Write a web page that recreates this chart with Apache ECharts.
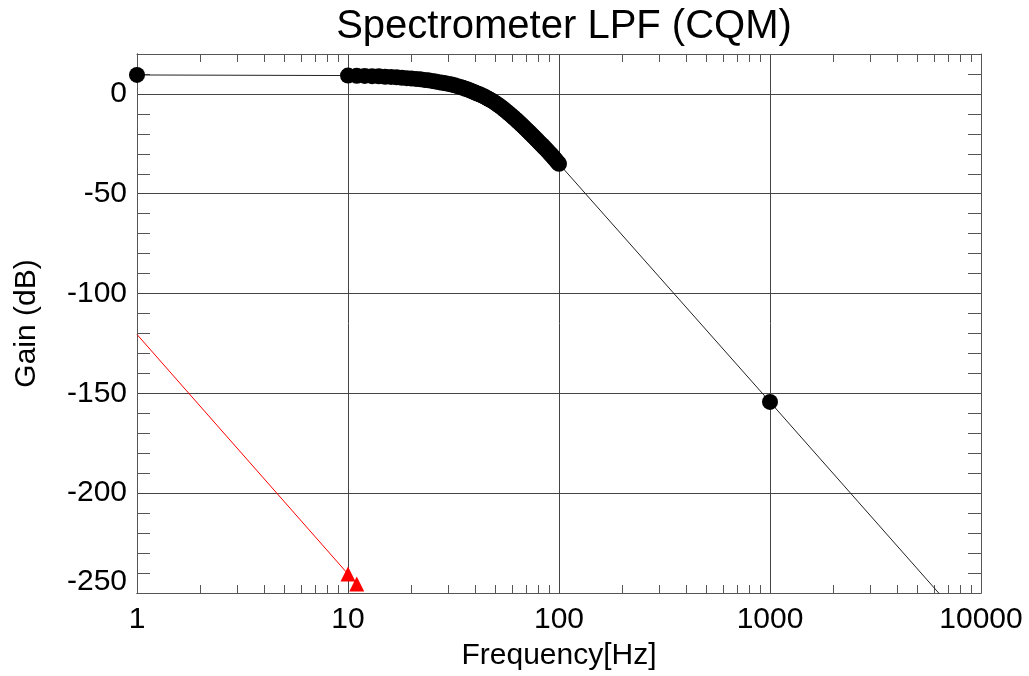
<!DOCTYPE html>
<html>
<head>
<meta charset="utf-8">
<script src="https://cdn.jsdelivr.net/npm/echarts@6/dist/echarts.min.js"></script>
<style>html,body{margin:0;padding:0;background:#fff}#c{width:1029px;height:676px}</style>
</head>
<body>
<div id="c"></div>
<script>
// Black series: frequency (Hz) and gain (dB)
const blackFreq = [1,
  10,11,12,13,14,15,16,17,18,19,20,21,22,23,24,25,26,27,28,29,30,
  31,32,33,34,35,36,37,38,39,40,41,42,43,44,45,46,47,48,49,50,
  51,52,53,54,55,56,57,58,59,60,61,62,63,64,65,66,67,68,69,70,
  71,72,73,74,75,76,77,78,79,80,81,82,83,84,85,86,87,88,89,90,
  91,92,93,94,95,96,97,98,99,100,
  1000, 10000];
const blackGain = [9.5,
  9.2,9.1,9.0,8.9,8.8,8.6,8.5,8.3,8.1,7.9,7.7,7.5,7.3,7.0,6.8,6.5,6.2,5.9,5.6,5.3,5.0,
  4.7,4.3,3.9,3.5,3.1,2.6,2.2,1.7,1.2,0.7,0.2,-0.2,-0.7,-1.2,-1.7,-2.3,-2.8,-3.4,-4.0,-4.6,
  -5.2,-5.8,-6.5,-7.1,-7.8,-8.5,-9.2,-9.8,-10.5,-11.2,-11.8,-12.5,-13.2,-13.8,-14.5,-15.2,-15.8,-16.5,-17.1,-17.8,
  -18.4,-19.0,-19.7,-20.3,-20.9,-21.5,-22.1,-22.7,-23.3,-23.9,-24.5,-25.1,-25.6,-26.2,-26.7,-27.3,-27.8,-28.4,-28.9,-29.5,
  -30.1,-30.6,-31.2,-31.7,-32.3,-32.8,-33.4,-33.9,-34.5,-35.0,
  -154.3, -274];
// Red series (first point has no visible marker in the reference)
const redFreq = [1, 10, 11];
const redGain = [-120.5, -240.5, -245.5];

const xMinorTicks = [2,3,4,5,6,7,8,9,20,30,40,50,60,70,80,90,200,300,400,500,600,700,800,900,2000,3000,4000,5000,6000,7000,8000,9000];
const yMinorTicks = [10,-10,-20,-30,-40,-60,-70,-80,-90,-110,-120,-130,-140,-160,-170,-180,-190,-210,-220,-230,-240];
const yLabels = [0,-50,-100,-150,-200,-250];
const xLabels = [1,10,100,1000,10000];

const FONT = '"Liberation Sans", Arial, Helvetica, sans-serif';
const AX = '#555';
const GRIDC = '#444';

const chart = echarts.init(document.getElementById('c'), null, {renderer:'canvas'});

// main axes: labels + grid lines at decades
function xMain() {
  return {
    type: 'log', logBase: 10, min: 1, max: 10000, position: 'bottom',
    axisLine: {show: true, onZero: false, lineStyle: {color: AX, width: 1}},
    axisTick: {show: false},
    axisLabel: {show: true, color: '#000', fontSize: 30, fontFamily: FONT, margin: 12,
      customValues: xLabels, formatter: v => String(Math.round(v))},
    splitLine: {show: true, lineStyle: {color: GRIDC, width: 1}},
    name: 'Frequency[Hz]', nameLocation: 'middle', nameGap: 48,
    nameTextStyle: {color: '#000', fontSize: 30, fontFamily: FONT}
  };
}
function xMinor(pos) {
  return {
    type: 'log', logBase: 10, min: 1, max: 10000, position: pos,
    axisLine: {show: true, onZero: false, lineStyle: {color: AX, width: 1}},
    axisTick: {show: true, inside: true, length: 8, customValues: xMinorTicks, lineStyle: {color: AX}},
    axisLabel: {show: false}, splitLine: {show: false}
  };
}
function yMain() {
  return {
    type: 'value', min: -250, max: 20, interval: 50, position: 'left',
    axisLine: {show: true, onZero: false, lineStyle: {color: AX, width: 1}},
    axisTick: {show: false},
    axisLabel: {show: true, color: '#000', fontSize: 30, fontFamily: FONT, margin: 10,
      customValues: yLabels,
      formatter: v => (v === -250 ? '{b|-250}' : String(v)),
      rich: {b: {fontSize: 30, fontFamily: FONT, color: '#000', padding: [0, 0, 22, 0]}}},
    splitLine: {show: true, lineStyle: {color: GRIDC, width: 1}},
    name: 'Gain (dB)', nameLocation: 'middle', nameGap: 95, nameRotate: 90,
    nameTextStyle: {color: '#000', fontSize: 30, fontFamily: FONT}
  };
}
function yMinor(pos) {
  return {
    type: 'value', min: -250, max: 20, interval: 50, position: pos,
    axisLine: {show: true, onZero: false, lineStyle: {color: AX, width: 1}},
    axisTick: {show: true, inside: true, length: 13, customValues: yMinorTicks, lineStyle: {color: AX}},
    axisLabel: {show: false}, splitLine: {show: false}
  };
}

chart.setOption({
  animation: false,
  backgroundColor: '#fff',
  title: {
    text: 'Spectrometer LPF (CQM)', left: 559, top: 2, textAlign: 'center',
    textStyle: {color: '#000', fontSize: 40, fontWeight: 'normal', fontFamily: FONT}
  },
  grid: {left: 137, right: 48, top: 54, bottom: 83, containLabel: false},
  xAxis: [xMain(), xMinor('top'), xMinor('bottom')],
  yAxis: [yMain(), yMinor('right'), yMinor('left')],
  series: [
    {
      type: 'line', xAxisIndex: 0, yAxisIndex: 0,
      data: blackFreq.map((f, i) => [f, blackGain[i]]),
      symbol: 'circle', symbolSize: 16, showAllSymbol: true, clip: true,
      itemStyle: {color: '#000'},
      lineStyle: {color: '#222', width: 1}
    },
    {
      type: 'line', xAxisIndex: 0, yAxisIndex: 0,
      data: redFreq.map((f, i) => (i === 0 ? {value: [f, redGain[i]], symbol: 'none'} : [f, redGain[i]])),
      symbol: 'triangle', symbolSize: 15, showAllSymbol: true, clip: true,
      itemStyle: {color: '#ff0000'},
      lineStyle: {color: '#ff0000', width: 1}
    }
  ]
});
</script>
</body>
</html>
